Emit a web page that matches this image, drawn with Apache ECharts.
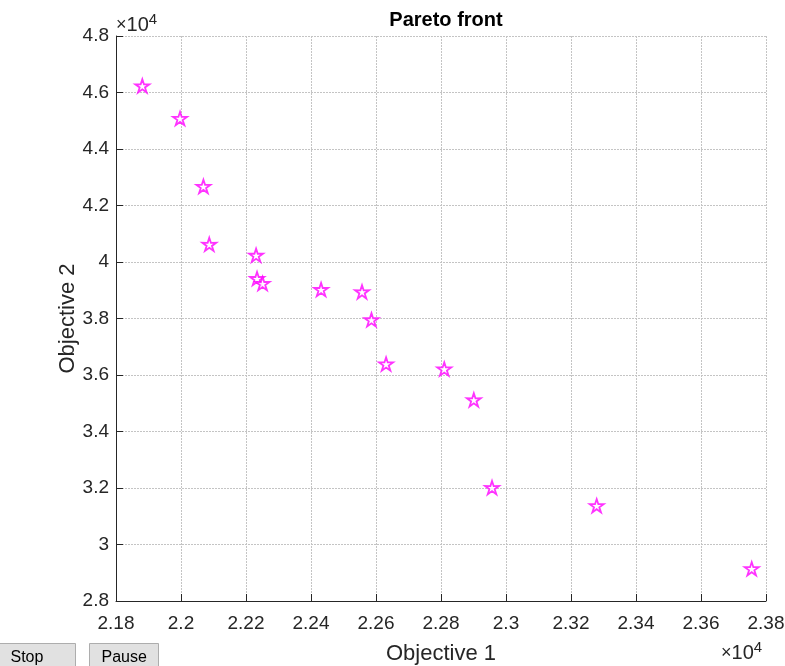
<!DOCTYPE html>
<html>
<head>
<meta charset="utf-8">
<title>Pareto front</title>
<script src="https://cdn.jsdelivr.net/npm/echarts@6/dist/echarts.min.js"></script>
<style>
  html, body { margin: 0; padding: 0; background: #fff; }
  #chart { width: 785px; height: 666px; }
</style>
</head>
<body>
<div id="chart"></div>
<script>
// objective values (real units, axis shows them /1e4)
var obj1 = [21881, 21997, 22069, 22087, 22231, 22234, 22251, 22431, 22557, 22586, 22631, 22810, 22901, 22957, 23279, 23756];
var obj2 = [46234, 45080, 42675, 40625, 40237, 39413, 39237, 39025, 38943, 37954, 36389, 36212, 35120, 32014, 31372, 29142];

var xMin = 21800, xMax = 23800, xStep = 200;
var yMin = 28000, yMax = 48000, yStep = 2000;

var FONT = "'Liberation Sans', Arial, Helvetica, sans-serif";
var INK = "#262626";
var GRID = "#c4c4c4";

// pentagram outline
var STAR = "path://M50 0 L61.2 34.6 L97.6 34.5 L68.1 55.9 L79.4 90.5 L50 69 L20.6 90.5 L31.9 55.9 L2.4 34.5 L38.8 34.6 Z";

var points = obj1.map(function (v, i) { return [v, obj2[i]]; });

function tickLabel(v) {
  return parseFloat((v / 1e4).toFixed(2)).toString();
}

// "x10^4" exponent marker, same look top-left and bottom-right
function expText(left, top) {
  return {
    type: "text", left: left, top: top,
    style: {
      text: "{x|×}{t|10}{s|4}",
      rich: {
        x: { fontFamily: FONT, fontSize: 18, fill: INK },
        t: { fontFamily: FONT, fontSize: 20, fill: INK },
        s: { fontFamily: FONT, fontSize: 15, fill: INK, verticalAlign: "top", padding: [0, 0, 12, 0] }
      }
    }
  };
}

var chart = echarts.init(document.getElementById("chart"));

chart.setOption({
  animation: false,
  backgroundColor: "#fff",
  title: {
    text: "Pareto front",
    left: 441,
    top: 5,
    textAlign: "center",
    textStyle: { fontFamily: FONT, fontSize: 20, fontWeight: "bold", color: "#000" }
  },
  grid: { left: 116, top: 36, right: 19, bottom: 65, outerBoundsMode: "none" },
  xAxis: {
    type: "value",
    min: xMin, max: xMax, interval: xStep,
    name: "Objective 1",
    nameLocation: "middle",
    nameGap: 42,
    nameMoveOverlap: false,
    nameTextStyle: { fontFamily: FONT, fontSize: 22, color: INK },
    axisLine: { onZero: false, lineStyle: { color: INK, width: 1 } },
    axisTick: { inside: true, length: 7, lineStyle: { color: INK } },
    axisLabel: { formatter: tickLabel, margin: 13, fontFamily: FONT, fontSize: 19, color: INK },
    splitLine: { show: true, lineStyle: { color: GRID, type: [2, 1], width: 1 } }
  },
  yAxis: {
    type: "value",
    min: yMin, max: yMax, interval: yStep,
    name: "Objective 2",
    nameLocation: "middle",
    nameGap: 37,
    nameMoveOverlap: false,
    nameTextStyle: { fontFamily: FONT, fontSize: 22, color: INK },
    axisLine: { show: true, onZero: false, lineStyle: { color: INK, width: 1 } },
    axisTick: { show: true, inside: true, length: 7, lineStyle: { color: INK } },
    axisLabel: { formatter: tickLabel, margin: 7, fontFamily: FONT, fontSize: 19, color: INK },
    splitLine: { show: true, lineStyle: { color: GRID, type: [2, 1], width: 1 } }
  },
  series: [{
    type: "scatter",
    data: points,
    symbol: STAR,
    symbolKeepAspect: true,
    symbolSize: 14,
    itemStyle: { color: "#fff", borderColor: "#ff00ff", borderWidth: 1.8 }
  }],
  graphic: [
    expText(116, 12),
    expText(721, 640),
    // Stop / Pause buttons
    {
      type: "group", left: -2, top: 643,
      children: [
        { type: "rect", shape: { x: 0, y: 0, width: 77, height: 26 }, style: { fill: "#e1e1e1", stroke: "#adadad", lineWidth: 1 } },
        { type: "text", x: 12, y: 6, style: { text: "Stop", fontFamily: FONT, fontSize: 16, fill: "#000" } }
      ]
    },
    {
      type: "group", left: 89, top: 643,
      children: [
        { type: "rect", shape: { x: 0, y: 0, width: 69, height: 26 }, style: { fill: "#e1e1e1", stroke: "#adadad", lineWidth: 1 } },
        { type: "text", x: 12, y: 6, style: { text: "Pause", fontFamily: FONT, fontSize: 16, fill: "#000" } }
      ]
    }
  ]
});
</script>
</body>
</html>
